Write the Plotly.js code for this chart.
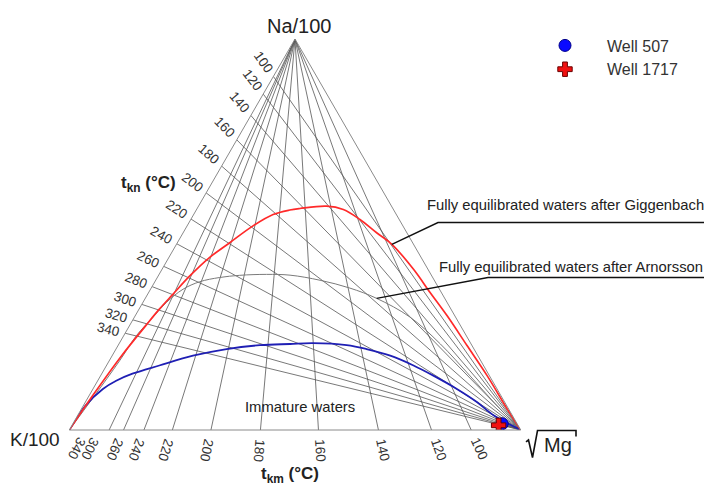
<!DOCTYPE html>
<html>
<head>
<meta charset="utf-8">
<script src="https://cdn.plot.ly/plotly-3.0.1.min.js"></script>
<style>
  html, body { margin: 0; padding: 0; background: #fff; }
  #chart { width: 704px; height: 486px; }
</style>
</head>
<body>
<div id="chart"></div>
<script>
// ---- Isotherms (°C) ----
const tknTemps = [100, 120, 140, 160, 180, 200, 220, 240, 260, 280, 300, 320, 340];
const tkmTemps = [100, 120, 140, 160, 180, 200, 220, 240, 260, 280];
const tkmLabels = [100, 120, 140, 160, 180, 200, 220, 240, 260, 300, 340];

// ---- Fully equilibrated waters after Giggenbach (Na/1000, K/100, sqrt(Mg) fractions) ----
const giggNa = [0, 0.088, 0.190, 0.267, 0.309, 0.347, 0.394, 0.441, 0.479, 0.522, 0.551, 0.562, 0.567, 0.573, 0.564, 0.539, 0.505, 0.475, 0.411, 0.352, 0.292, 0.216, 0.139, 0.054, 0];
const giggK  = [1, 0.904, 0.789, 0.697, 0.646, 0.597, 0.536, 0.469, 0.405, 0.332, 0.273, 0.230, 0.206, 0.144, 0.111, 0.087, 0.067, 0.048, 0.032, 0.025, 0.017, 0.011, 0.005, 0.003, 0];
const giggMg = [0, 0.008, 0.021, 0.036, 0.045, 0.056, 0.070, 0.090, 0.116, 0.146, 0.176, 0.207, 0.228, 0.284, 0.325, 0.375, 0.429, 0.477, 0.557, 0.624, 0.691, 0.773, 0.856, 0.943, 1];

// ---- Fully equilibrated waters after Arnorsson ----
const arnNa = [0, 0.087, 0.177, 0.241, 0.288, 0.326, 0.360, 0.379, 0.390, 0.396, 0.398, 0.396, 0.383, 0.363, 0.337, 0.289, 0.220, 0.138, 0.067, 0];
const arnK  = [1, 0.901, 0.801, 0.731, 0.671, 0.622, 0.568, 0.522, 0.472, 0.425, 0.364, 0.313, 0.253, 0.197, 0.151, 0.101, 0.068, 0.043, 0.023, 0];
const arnMg = [0, 0.012, 0.023, 0.028, 0.041, 0.052, 0.072, 0.099, 0.138, 0.180, 0.238, 0.291, 0.364, 0.440, 0.513, 0.611, 0.712, 0.819, 0.910, 1];

// ---- Immature waters boundary ----
const immNa = [0, 0.063, 0.105, 0.126, 0.144, 0.165, 0.190, 0.207, 0.217, 0.220, 0.222, 0.217, 0.207, 0.190, 0.165, 0.139, 0.105, 0.071, 0.037, 0];
const immK  = [1, 0.932, 0.873, 0.833, 0.788, 0.718, 0.631, 0.548, 0.469, 0.401, 0.349, 0.277, 0.238, 0.194, 0.155, 0.124, 0.089, 0.061, 0.041, 0];
const immMg = [0, 0.005, 0.022, 0.041, 0.068, 0.117, 0.179, 0.245, 0.314, 0.379, 0.429, 0.506, 0.555, 0.616, 0.680, 0.737, 0.806, 0.868, 0.922, 1];

// ---- Wells ----
const wellNames = ['Well 507', 'Well 1717'];
const wellNa = [0.016, 0.012];
const wellK  = [0.033, 0.043];
const wellMg = [0.951, 0.945];

// ---- Geothermometers (Giggenbach 1988) ----
// Na-K: log(Na/K) = 1390/T - 1.75 ; plotted as Na/1000 : K/100
function naToKRatio(t) { return Math.pow(10, 1390 / (t + 273.15) - 1.75) / 10; }
// K-Mg: log(K^2/Mg) = 14.0 - 4410/T ; plotted as K/100 : sqrt(Mg)
function kToSqrtMgRatio(t) { return Math.pow(10, (14.0 - 4410 / (t + 273.15)) / 2) / 100; }

// ---- Page geometry ----
const FIG_W = 704, FIG_H = 486;
const M = { l: 69, r: 183, t: 39, b: 56 };
const GW = FIG_W - M.l - M.r, GH = FIG_H - M.t - M.b;
const W_OVER_H = 2 / Math.sqrt(3);
let triW, triH;
if (GW > W_OVER_H * GH) { triH = GH; triW = triH * W_OVER_H; } else { triW = GW; triH = triW / W_OVER_H; }
const triX0 = M.l + GW / 2 - triW / 2;
const triY0 = M.t + GH / 2 - triH / 2;

function tern2px(a, b, c) {
  const s = a + b + c;
  a /= s; c /= s;
  return [triX0 + triW * (c + a / 2), triY0 + triH * (1 - a)];
}
function px2paper(x, y) { return [(x - M.l) / GW, 1 - (y - M.t) / GH]; }

const FONT = 'Liberation Sans, Arial, sans-serif';
const GRID = { color: '#555', width: 0.8 };

const traces = [];

// Na-K isotherms: fan from the sqrt(Mg) corner to the Na-K side
tknTemps.forEach(t => {
  const r = naToKRatio(t);
  traces.push({
    type: 'scatterternary', mode: 'lines', hoverinfo: 'skip', showlegend: false,
    a: [r / (1 + r), 0], b: [1 / (1 + r), 0], c: [0, 1], line: GRID
  });
});
// K-Mg isotherms: fan from the Na corner to the K-Mg side
tkmTemps.forEach(t => {
  const s = kToSqrtMgRatio(t);
  traces.push({
    type: 'scatterternary', mode: 'lines', hoverinfo: 'skip', showlegend: false,
    a: [1, 0], b: [0, s / (1 + s)], c: [0, 1 / (1 + s)], line: GRID
  });
});

traces.push({
  type: 'scatterternary', mode: 'lines', hoverinfo: 'skip', showlegend: false,
  a: arnNa, b: arnK, c: arnMg, line: { color: '#7a7a7a', width: 1, shape: 'spline', smoothing: 1 }
});
traces.push({
  type: 'scatterternary', mode: 'lines', hoverinfo: 'skip', showlegend: false,
  a: immNa, b: immK, c: immMg, line: { color: '#1f1fb4', width: 1.8, shape: 'spline', smoothing: 1 }
});
traces.push({
  type: 'scatterternary', mode: 'lines', hoverinfo: 'skip', showlegend: false,
  a: giggNa, b: giggK, c: giggMg, line: { color: '#ff2a2a', width: 1.7, shape: 'spline', smoothing: 1 }
});

traces.push({
  type: 'scatterternary', mode: 'markers', name: wellNames[0],
  a: [wellNa[0]], b: [wellK[0]], c: [wellMg[0]],
  marker: { symbol: 'circle', size: 12, color: '#0a0aff', line: { color: '#00008a', width: 1 } }
});
traces.push({
  type: 'scatterternary', mode: 'markers', name: wellNames[1],
  a: [wellNa[1]], b: [wellK[1]], c: [wellMg[1]],
  marker: { symbol: 'cross', size: 12, color: '#f01010', line: { color: '#6a0000', width: 1 } }
});

// ---- Text ----
const annotations = [];
function addText(x, y, text, opts) {
  const p = px2paper(x, y);
  annotations.push(Object.assign({
    x: p[0], y: p[1], xref: 'paper', yref: 'paper', text: text, showarrow: false,
    xanchor: 'center', yanchor: 'middle', font: { family: FONT, size: 13.5, color: '#333' }
  }, opts || {}));
}

const pNa = tern2px(1, 0, 0), pK = tern2px(0, 1, 0), pMg = tern2px(0, 0, 1);

// Na-K temperature labels along the left side
tknTemps.forEach(t => {
  const r = naToKRatio(t);
  const p = tern2px(r / (1 + r), 1 / (1 + r), 0);
  let dx = p[0] - pMg[0], dy = p[1] - pMg[1];
  const len = Math.hypot(dx, dy); dx /= len; dy /= len;
  addText(p[0] + dx * 17, p[1] + dy * 17, String(t), {
    textangle: Math.atan2(-dy, -dx) * 180 / Math.PI
  });
});
// K-Mg temperature labels under the base
tkmLabels.forEach(t => {
  const s = kToSqrtMgRatio(t);
  const p = tern2px(0, s / (1 + s), 1 / (1 + s));
  let dx = p[0] - pNa[0], dy = p[1] - pNa[1];
  const len = Math.hypot(dx, dy); dx /= len; dy /= len;
  addText(p[0] + dx * 21, p[1] + dy * 21, String(t), {
    textangle: Math.atan2(dy, dx) * 180 / Math.PI
  });
});

addText(pNa[0] + 4, pNa[1] - 13, 'Na/100', { font: { family: FONT, size: 20, color: '#222' } });
addText(pK[0] - 7, pK[1] + 9, 'K/100', { xanchor: 'right', font: { family: FONT, size: 19, color: '#222' } });
addText(558, 445, 'Mg', { font: { family: FONT, size: 20, color: '#222' } });
addText(148, 184, '<b>t<sub>kn</sub> (°C)</b>', { font: { family: FONT, size: 17, color: '#222' } });
addText(290, 475, '<b>t<sub>km</sub> (°C)</b>', { font: { family: FONT, size: 17, color: '#222' } });
addText(300, 407, 'Immature waters', { font: { family: FONT, size: 14.8, color: '#222' } });
addText(425, 205, 'Fully equilibrated waters after Giggenbach', { xanchor: 'left', font: { family: FONT, size: 14.8, color: '#222' } });
addText(437, 267, 'Fully equilibrated waters after Arnorsson', { xanchor: 'left', font: { family: FONT, size: 14.8, color: '#222' } });

// ---- Leader lines and radical sign ----
function pathFromPx(pts) {
  return pts.map((q, i) => {
    const p = px2paper(q[0], q[1]);
    return (i ? 'L' : 'M') + p[0].toFixed(5) + ',' + p[1].toFixed(5);
  }).join(' ');
}
const giggTip = tern2px(giggNa[17], giggK[17], giggMg[17]);
const arnTip = tern2px(arnNa[14], arnK[14], arnMg[14]);
const shapes = [
  { type: 'path', xref: 'paper', yref: 'paper', line: { color: '#111', width: 1.4 },
    path: pathFromPx([giggTip, [438, 222.5], [704, 222.5]]) },
  { type: 'path', xref: 'paper', yref: 'paper', line: { color: '#111', width: 1.4 },
    path: pathFromPx([arnTip, [488, 277.5], [704, 277.5]]) },
  { type: 'path', xref: 'paper', yref: 'paper', line: { color: '#111', width: 1.6 },
    path: pathFromPx([[526, 442], [528.5, 440], [532.5, 457.5], [537.5, 430.5], [576, 430.5], [576, 436.5]]) }
];

const legendPos = px2paper(523, 28.5);

// Ternary axes carry only the triangle outline
const outline = {
  showline: true, linecolor: '#8a8a8a', linewidth: 1, showgrid: false,
  showticklabels: false, ticks: '', min: 0, title: { text: '' }
};

const layout = {
  width: FIG_W, height: FIG_H,
  margin: M,
  paper_bgcolor: '#fff',
  font: { family: FONT, color: '#333' },
  hovermode: false,
  showlegend: true,
  legend: {
    x: legendPos[0], y: legendPos[1], xanchor: 'left', yanchor: 'top',
    font: { family: FONT, size: 16, color: '#333' },
    itemwidth: 74, bgcolor: 'rgba(0,0,0,0)', borderwidth: 0
  },
  ternary: {
    sum: 1,
    bgcolor: '#fff',
    aaxis: Object.assign({}, outline),
    baxis: Object.assign({}, outline),
    caxis: Object.assign({}, outline)
  },
  annotations: annotations,
  shapes: shapes
};

Plotly.newPlot('chart', traces, layout, { displayModeBar: false, staticPlot: true });
</script>
</body>
</html>
